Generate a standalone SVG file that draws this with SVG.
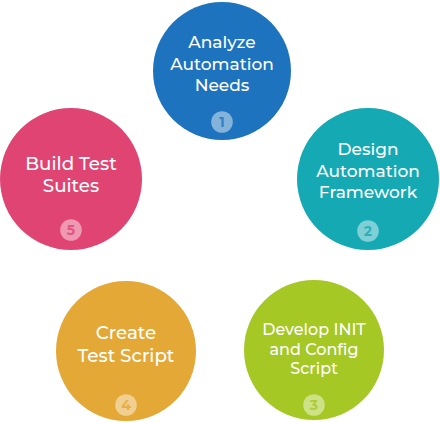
<svg xmlns="http://www.w3.org/2000/svg" width="440" height="423" viewBox="0 0 440 423">
<style>
.lbl{font-family:"Montserrat","Open Sans","Liberation Sans",sans-serif;font-weight:500;font-size:17px;fill:#ffffff;text-anchor:middle}
.big{font-size:18.3px}
.badge{fill:#ffffff;fill-opacity:0.45}
.num{font-family:"Montserrat","Open Sans","Liberation Sans",sans-serif;font-weight:700;font-size:14px;text-anchor:middle}
</style>
<rect width="440" height="423" fill="#ffffff"/>
<g id="connectors"></g>
<g id="node1">
<circle cx="222" cy="71" r="69" fill="#1e73be"/>
<text class="lbl" x="222" y="48">Analyze</text>
<text class="lbl" x="222" y="69.5">Automation</text>
<text class="lbl" x="222" y="91">Needs</text>
<circle class="badge" cx="222" cy="122" r="10.8"/>
<text class="num" x="222" y="127" fill="#1e73be" fill-opacity="0.8">1</text>
</g>
<g id="node2">
<circle cx="368" cy="179" r="71" fill="#15a9b4"/>
<text class="lbl" x="368" y="155">Design</text>
<text class="lbl" x="368" y="177">Automation</text>
<text class="lbl" x="368" y="198">Framework</text>
<circle class="badge" cx="368" cy="231" r="10.8"/>
<text class="num" x="368" y="236" fill="#15a9b4" fill-opacity="0.8">2</text>
</g>
<g id="node3">
<circle cx="314" cy="350" r="70" fill="#a5c825"/>
<text class="lbl" x="314" y="335" style="font-size:16px">Develop INIT</text>
<text class="lbl" x="314" y="355" style="font-size:16px">and Config</text>
<text class="lbl" x="314" y="374" style="font-size:16px">Script</text>
<circle class="badge" cx="314" cy="405" r="10.8"/>
<text class="num" x="314" y="410" fill="#a5c825" fill-opacity="0.8">3</text>
</g>
<g id="node4">
<circle cx="126" cy="351" r="70" fill="#e3a835"/>
<text class="lbl big" x="126" y="339">Create</text>
<text class="lbl big" x="126" y="362">Test Script</text>
<circle class="badge" cx="126" cy="405" r="10.8"/>
<text class="num" x="126" y="410" fill="#e3a835" fill-opacity="0.8">4</text>
</g>
<g id="node5">
<circle cx="71" cy="179" r="71" fill="#e04473"/>
<text class="lbl big" x="71" y="170">Build Test</text>
<text class="lbl big" x="71" y="192">Suites</text>
<circle class="badge" cx="71" cy="230" r="10.8"/>
<text class="num" x="71" y="235" fill="#e04473" fill-opacity="0.8">5</text>
</g>
</svg>
